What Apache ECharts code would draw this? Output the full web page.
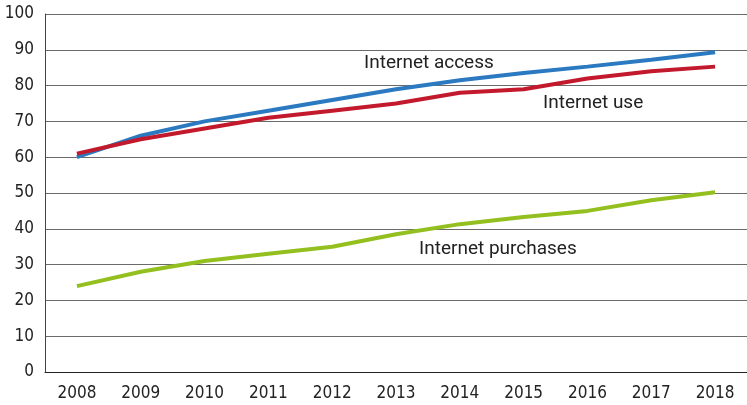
<!DOCTYPE html>
<html><head><meta charset="utf-8">
<script src="https://cdn.jsdelivr.net/npm/echarts@6/dist/echarts.min.js"></script>
<style>html,body{margin:0;padding:0;background:#fff}#c{width:747px;height:405px}</style>
</head><body><div id="c"></div>
<script>
var years = ['2008','2009','2010','2011','2012','2013','2014','2015','2016','2017','2018'];
var internetAccess = [60, 66, 70, 73, 76, 79, 81.5, 83.5, 85.3, 87.2, 89.3];
var internetUse = [61, 65, 68, 71, 73, 75, 78, 79, 82, 84, 85.3];
var internetPurchases = [24, 28, 31, 33, 35, 38.5, 41.3, 43.3, 45, 48, 50.2];
var yTicks = [0, 10, 20, 30, 40, 50, 60, 70, 80, 90, 100];

var chart = echarts.init(document.getElementById('c'), null, {renderer: 'canvas'});
function ser(name, data, color) {
  return {name: name, type: 'line', data: data, symbol: 'none', smooth: false,
    lineStyle: {color: color, width: 4}, itemStyle: {color: color}, z: 3};
}
var tickFont = '"DejaVu Sans Condensed", "DejaVu Sans", sans-serif';
chart.setOption({
  animation: false,
  grid: {left: 45, top: 14, width: 708, height: 358, containLabel: false},
  xAxis: {
    type: 'category', data: years, boundaryGap: true,
    axisLine: {show: true, lineStyle: {color: '#222', width: 1}},
    axisTick: {show: false},
    axisLabel: {color: '#222', fontFamily: tickFont, fontSize: 17, margin: 13},
    splitLine: {show: false}
  },
  yAxis: {
    type: 'value', min: yTicks[0], max: yTicks[yTicks.length - 1], interval: 10,
    axisLine: {show: true, lineStyle: {color: '#444', width: 1}},
    axisTick: {show: false},
    axisLabel: {color: '#222', fontFamily: tickFont, fontSize: 17, margin: 11},
    splitLine: {show: true, lineStyle: {color: '#6a6a6a', width: 1}}
  },
  series: [
    ser('Internet access', internetAccess, '#2a79c1'),
    ser('Internet use', internetUse, '#c2192d'),
    ser('Internet purchases', internetPurchases, '#93c01f')
  ],
  graphic: [
    {type: 'text', x: 364, y: 63, style: {text: 'Internet access', font: '19px Roboto', fill: '#222', verticalAlign: 'middle'}},
    {type: 'text', x: 543, y: 103.5, style: {text: 'Internet use', font: '19px Roboto', fill: '#222', verticalAlign: 'middle'}},
    {type: 'text', x: 419, y: 249, style: {text: 'Internet purchases', font: '19px Roboto', fill: '#222', verticalAlign: 'middle'}}
  ]
});
</script></body></html>
